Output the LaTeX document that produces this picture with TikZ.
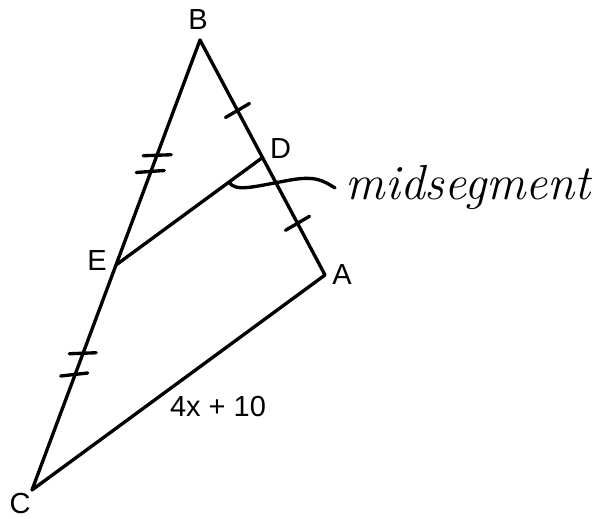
\documentclass[tikz,border=0pt]{standalone}
\usepackage{fontspec}
\setsansfont{Liberation Sans}
\usetikzlibrary{calc}
\begin{document}
\begin{tikzpicture}[
  x=0.02cm, y=-0.02cm,
  side/.style={line width=1.9pt, line join=round},
  tick/.style={line width=1.9pt, line cap=round},
  vlabel/.style={font=\sffamily\fontsize{16.5}{19}\selectfont, inner sep=0pt},
  hand/.style={font=\itshape\fontsize{28}{32}\selectfont, inner sep=6pt, anchor=base west},
]
\useasboundingbox (0,0) rectangle (604,519);

% ===== vertices and midpoints =====
\coordinate (B) at (200,40);
\coordinate (A) at (325,275);
\coordinate (C) at (32,490);
\coordinate (D) at ($(B)!0.5!(A)$);
\coordinate (E) at ($(B)!0.5!(C)$);
\coordinate (m) at ($(E)!0.77!(D)$);

% ===== triangle + midsegment =====
\draw[side] (B) -- (A) -- (C) -- cycle;
\draw[side] (E) -- (D);

% ===== congruence marks =====
% single marks on BA
\draw[tick] ($(B)!0.30!(A)$) ++(-12,7) -- ++(24,-14);
\draw[tick] ($(B)!0.78!(A)$) ++(-12,7) -- ++(24,-14);
% double marks on BE and EC
\draw[tick] ($(B)!0.255!(C)$) ++(-14,1) -- ++(28,-1);
\draw[tick] ($(B)!0.29!(C)$) ++(-15,2) -- ++(28,-2);
\draw[tick] ($(B)!0.695!(C)$) ++(-14,1) -- ++(27,-1);
\draw[tick] ($(B)!0.74!(C)$) ++(-15,3) -- ++(27,-3);

% ===== vertex labels =====
\node[vlabel] (lB) at ($(B)+(-2,-20)$) {B};
\node[vlabel] (lA) at ($(A)+(17,0)$) {A};
\node[vlabel] (lC) at ($(C)+(-12,14)$) {C};
\node[vlabel] (lD) at ($(D)+(18,-9)$) {D};
\node[vlabel] (lE) at ($(E)+(-19,-4)$) {E};
\node[vlabel] (side) at (218,407) {4x + 10};

% ===== handwritten pointer =====
\node[hand] (lbl) at (335,200) {midsegment};
\draw[tick] (m) .. controls (236,192) and (252,187) .. (285,181)
  .. controls (315,175) and (322,180) .. (lbl.west);
\end{tikzpicture}
\end{document}
